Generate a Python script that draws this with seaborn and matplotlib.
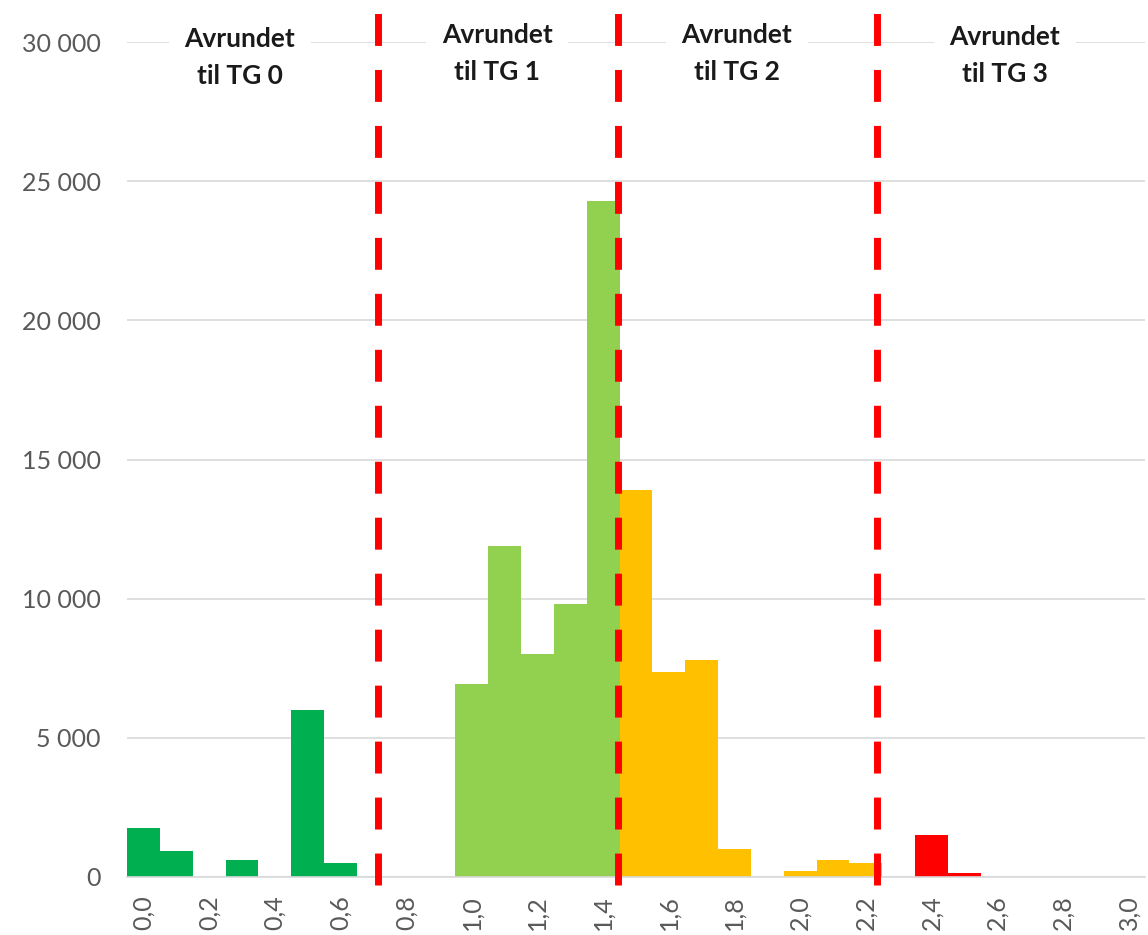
import matplotlib
matplotlib.use("Agg")
import matplotlib.pyplot as plt
import matplotlib.ticker as mticker
import numpy as np
import pandas as pd
import seaborn as sns

# Condition score classes (0,0 - 3,0 in steps of 0,1) and number of objects in each
score_values = [round(0.1 * i, 1) for i in range(31)]
score_labels = [f"{v:.1f}".replace(".", ",") for v in score_values]
counts = [1750, 950, 0, 600, 0, 6000, 500, 0, 0, 0,
          6950, 11900, 8000, 9800, 24300, 13900, 7350, 7800, 1000, 0,
          200, 600, 500, 0, 1500, 150, 0, 0, 0, 0, 0]

# Rounding limits between the condition grades (TG 0 | TG 1 | TG 2 | TG 3)
tg_limits = [0.715, 1.445, 2.235]
tg_names = ["TG 0", "TG 1", "TG 2", "TG 3"]
tg_colors = ["#00B050", "#92D050", "#FFC000", "#FF0000"]
tg_texts = ["Avrundet\ntil TG 0", "Avrundet\ntil TG 1", "Avrundet\ntil TG 2", "Avrundet\ntil TG 3"]
y_ticks = [0, 5000, 10000, 15000, 20000, 25000, 30000]

df = pd.DataFrame({
    "score": score_labels,
    "count": counts,
    "tg": [tg_names[i] for i in np.digitize(score_values, tg_limits)],
})

sns.set_style("white")
plt.rcParams["font.family"] = ["Lato", "DejaVu Sans"]

fig = plt.figure(figsize=(11.48, 9.35), dpi=100)
ax = fig.add_axes([127 / 1148, 58 / 935, 1018 / 1148, 835 / 935])

sns.barplot(data=df, x="score", y="count", hue="tg", order=score_labels,
            hue_order=tg_names, palette=tg_colors, dodge=False, width=1.0,
            saturation=1, linewidth=0, legend=False, ax=ax, zorder=2)

ax.set_xlim(-0.5, len(score_labels) - 0.5)
ax.set_ylim(0, 30000)
ax.set_xlabel("")
ax.set_ylabel("")

# y axis: thousands separated by a space
ax.set_yticks(y_ticks)
ax.yaxis.set_major_formatter(mticker.FuncFormatter(lambda v, _: f"{v:,.0f}".replace(",", " ")))
ax.tick_params(axis="y", length=0, pad=19, labelsize=18, labelcolor="#595959")

# x axis: every second class labelled, rotated
ax.set_xticks(range(0, len(score_labels), 2))
ax.set_xticklabels(score_labels[::2], rotation=90)
ax.tick_params(axis="x", length=0, pad=13, labelsize=18, labelcolor="#595959")

ax.yaxis.grid(True, color="#D9D9D9", linewidth=1.2)
ax.set_axisbelow(True)
for side in ["left", "right", "top"]:
    ax.spines[side].set_visible(False)
ax.spines["bottom"].set_color("#D9D9D9")
ax.spines["bottom"].set_linewidth(1.2)

# Grade limits as red dashed lines
step = score_values[1] - score_values[0]
for lim in tg_limits:
    ax.axvline(lim / step, ymin=-0.0096, ymax=1.036, color="#FF0000",
               linewidth=5, dashes=(4.6, 3.46), clip_on=False, zorder=6)

# Grade headings
text_pos = [2.94, 10.77, 18.07, 26.23]
text_y = [29450, 29600, 29600, 29500]
for x, y, t in zip(text_pos, text_y, tg_texts):
    ax.text(x, y, t, ha="center", va="center", fontsize=19, fontweight="bold",
            color="#1A1A1A", linespacing=1.65, zorder=4,
            bbox=dict(boxstyle="square,pad=0.6", facecolor="white", edgecolor="none"))

fig.savefig("out.png", dpi=100)
